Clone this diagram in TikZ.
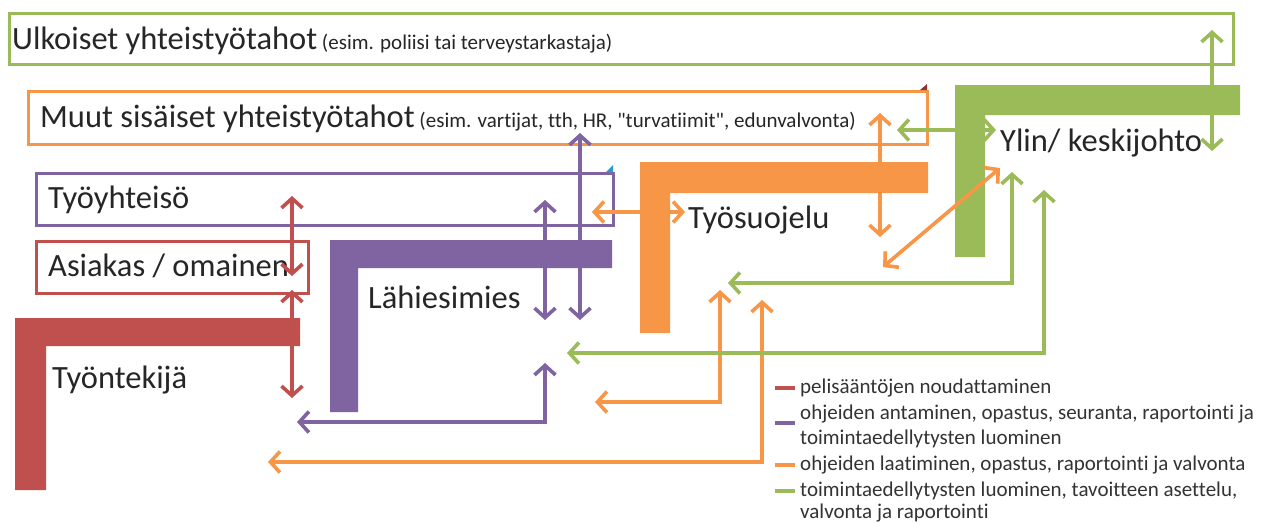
\documentclass[tikz,border=0pt]{standalone}
\usepackage{fontspec}
\setmainfont{Carlito}[Ligatures={TeXOff,NoCommon}]
\usetikzlibrary{arrows.meta}
\definecolor{cgreen}{HTML}{9BBB59}
\definecolor{corange}{HTML}{F79646}
\definecolor{cpurple}{HTML}{8064A2}
\definecolor{cred}{HTML}{C0504D}
\newcommand{\bigf}{\fontsize{32.5}{36}\selectfont}
\newcommand{\smf}{\fontsize{21}{24}\selectfont}
\newcommand{\legf}{\fontsize{21}{25}\selectfont}
\begin{document}
\begin{tikzpicture}[x=1pt,y=-1pt,
  obox/.style={draw, line width=3pt, rectangle, inner sep=0pt, anchor=north west},
  lbl/.style={font=\bigf, anchor=base west, inner sep=0pt, text=black!85},
  arr/.style={line width=3.6pt, line cap=round, {Straight Barb[length=9.5pt,width=21pt]}-{Straight Barb[length=9.5pt,width=21pt]}},
  leg/.style={font=\legf, anchor=base west, inner sep=0pt, text=black!80},
  legbar/.style={line width=4.5pt}
]
\useasboundingbox (0,0) rectangle (1271,522);
\fill[white] (0,0) rectangle (1271,522);

% outline boxes
\node[obox, draw=cgreen, minimum width=1224pt, minimum height=51pt] (ulk) at (8,12) {};
\node[obox, draw=corange, minimum width=899pt, minimum height=53pt] (muut) at (27,90) {};
\node[obox, draw=cpurple, minimum width=577pt, minimum height=52pt] (tyy) at (35,172) {};
\node[obox, draw=cred, minimum width=272pt, minimum height=52pt] (asi) at (35,240) {};

% tiny corner marks
\fill[cred!70!black] (920,90) -- (927,84) -- (927,90) -- cycle;
\fill[cyan!60!teal] (606,172) -- (613,165) -- (613,172) -- cycle;

% L shapes
\fill[cred] (15,318) -- (300,318) -- (300,346) -- (46,346) -- (46,490) -- (15,490) -- cycle;
\fill[cpurple] (330,240) -- (612,240) -- (612,268) -- (358,268) -- (358,412) -- (330,412) -- cycle;
\fill[corange] (640,162) -- (928,162) -- (928,193) -- (670,193) -- (670,333) -- (640,333) -- cycle;
\fill[cgreen] (955,85) -- (1240,85) -- (1240,115) -- (985,115) -- (985,257) -- (955,257) -- cycle;

% labels
\node[lbl] (tulk) at (12,49) {Ulkoiset yhteistyötahot{\smf{} (esim. poliisi tai terveystarkastaja)}};
\node[lbl] (tmuut) at (40,127) {Muut sisäiset yhteistyötahot{\smf{} (esim. vartijat, tth, HR, "turvatiimit", edunvalvonta)}};
\node[lbl] (ttyy) at (48,208) {Työyhteisö};
\node[lbl] (tasi) at (48,276) {Asiakas / omainen};
\node[lbl] (ttyo) at (52,388) {Työntekijä};
\node[lbl] (tlah) at (368,308) {Lähiesimies};
\node[lbl] (tsuo) at (688,228) {Työsuojelu};
\node[lbl] (tylin) at (1000,151) {Ylin/ keskijohto};

% arrow end points
\coordinate (r1a) at (292,196); \coordinate (r1b) at (292,276);
\coordinate (r2a) at (292,290); \coordinate (r2b) at (292,398);
\coordinate (p1a) at (545,200); \coordinate (p1b) at (545,320);
\coordinate (p2a) at (580,133); \coordinate (p2b) at (580,320);
\coordinate (p3a) at (297,422); \coordinate (p3b) at (545,363);
\coordinate (o1a) at (592,212); \coordinate (o1b) at (685,212);
\coordinate (o2a) at (880,113); \coordinate (o2b) at (880,237);
\coordinate (o3a) at (883,267); \coordinate (o3b) at (1000,168);
\coordinate (o4a) at (595,402); \coordinate (o4b) at (720,290);
\coordinate (o5a) at (268,462); \coordinate (o5b) at (762,300);
\coordinate (g1a) at (897,130); \coordinate (g1b) at (996,130);
\coordinate (g2a) at (1212,30); \coordinate (g2b) at (1212,151);
\coordinate (g3a) at (728,283); \coordinate (g3b) at (1012,172);
\coordinate (g4a) at (567,353); \coordinate (g4b) at (1044,190);

% red arrows
\draw[arr, cred] (r1a) -- (r1b);
\draw[arr, cred] (r2a) -- (r2b);
% purple arrows
\draw[arr, cpurple] (p1a) -- (p1b);
\draw[arr, cpurple] (p2a) -- (p2b);
\draw[arr, cpurple, line cap=butt] (p3a) -| (p3b);
% orange arrows
\draw[arr, corange] (o1a) -- (o1b);
\draw[arr, corange] (o2a) -- (o2b);
\draw[arr, corange] (o3a) -- (o3b);
\draw[arr, corange, line cap=butt] (o4a) -| (o4b);
\draw[arr, corange, line cap=butt] (o5a) -| (o5b);
% green arrows
\draw[arr, cgreen] (g1a) -- (g1b);
\draw[arr, cgreen] (g2a) -- (g2b);
\draw[arr, cgreen, line cap=butt] (g3a) -| (g3b);
\draw[arr, cgreen, line cap=butt] (g4a) -| (g4b);

% legend
\draw[legbar, cred] (775,388) -- (795,388);
\node[leg] (l1) at (800,393) {pelisääntöjen noudattaminen};
\draw[legbar, cpurple] (775,423) -- (795,423);
\node[leg] (l2) at (800,419) {ohjeiden antaminen, opastus, seuranta, raportointi ja};
\node[leg] (l2b) at (800,444) {toimintaedellytysten luominen};
\draw[legbar, corange] (775,465) -- (795,465);
\node[leg] (l3) at (800,470) {ohjeiden laatiminen, opastus, raportointi ja valvonta};
\draw[legbar, cgreen] (775,491) -- (795,491);
\node[leg] (l4) at (800,496) {toimintaedellytysten luominen, tavoitteen asettelu,};
\node[leg] (l4b) at (800,518) {valvonta ja raportointi};
\end{tikzpicture}
\end{document}
